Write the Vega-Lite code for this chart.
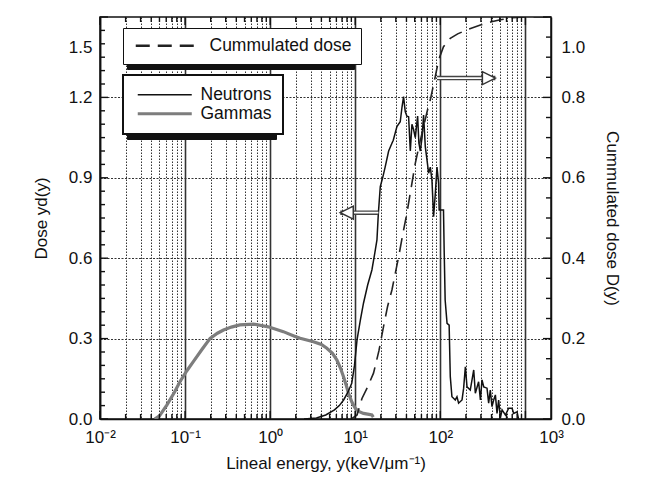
{
  "$schema": "https://vega.github.io/schema/vega-lite/v6.json",
  "width": 451,
  "height": 402,
  "autosize": {"type": "none"},
  "padding": {"left": 100, "top": 17, "right": 96, "bottom": 64},
  "background": "white",
  "config": {
    "font": "Liberation Sans",
    "view": {"stroke": "#111", "strokeWidth": 1.5},
    "axis": {
      "labelFont": "Liberation Sans", "labelFontSize": 17, "labelColor": "#111",
      "titleFont": "Liberation Sans", "titleFontSize": 17, "titleFontWeight": "normal", "titleColor": "#111",
      "domainColor": "#111", "domainWidth": 1.5, "ticks": false
    }
  },
  "datasets": {
    "curves": [
      {"s": "Gammas", "x": 0.044, "y": 0}, {"s": "Gammas", "x": 0.05, "y": 0.012}, {"s": "Gammas", "x": 0.061, "y": 0.052},
      {"s": "Gammas", "x": 0.075, "y": 0.1}, {"s": "Gammas", "x": 0.087, "y": 0.139}, {"s": "Gammas", "x": 0.105, "y": 0.18},
      {"s": "Gammas", "x": 0.125, "y": 0.214}, {"s": "Gammas", "x": 0.16, "y": 0.262}, {"s": "Gammas", "x": 0.197, "y": 0.301},
      {"s": "Gammas", "x": 0.24, "y": 0.32}, {"s": "Gammas", "x": 0.283, "y": 0.332}, {"s": "Gammas", "x": 0.35, "y": 0.343},
      {"s": "Gammas", "x": 0.44, "y": 0.351}, {"s": "Gammas", "x": 0.64, "y": 0.354}, {"s": "Gammas", "x": 0.95, "y": 0.344},
      {"s": "Gammas", "x": 1.43, "y": 0.326}, {"s": "Gammas", "x": 1.9, "y": 0.31}, {"s": "Gammas", "x": 2.25, "y": 0.301},
      {"s": "Gammas", "x": 3.23, "y": 0.288}, {"s": "Gammas", "x": 4.0, "y": 0.278}, {"s": "Gammas", "x": 4.64, "y": 0.264},
      {"s": "Gammas", "x": 5.4, "y": 0.245}, {"s": "Gammas", "x": 6.09, "y": 0.22}, {"s": "Gammas", "x": 6.7, "y": 0.19},
      {"s": "Gammas", "x": 7.28, "y": 0.158}, {"s": "Gammas", "x": 7.8, "y": 0.128}, {"s": "Gammas", "x": 8.34, "y": 0.096},
      {"s": "Gammas", "x": 9.1, "y": 0.064}, {"s": "Gammas", "x": 10, "y": 0.04}, {"s": "Gammas", "x": 11, "y": 0.028},
      {"s": "Gammas", "x": 12.5, "y": 0.021}, {"s": "Gammas", "x": 14, "y": 0.018}, {"s": "Gammas", "x": 15.7, "y": 0.015},
      {"s": "Gammas", "x": 16.3, "y": 0.007},
      {"s": "Neutrons", "x": 2.5, "y": 0}, {"s": "Neutrons", "x": 3.5, "y": 0.004}, {"s": "Neutrons", "x": 4.5, "y": 0.015},
      {"s": "Neutrons", "x": 5.7, "y": 0.034}, {"s": "Neutrons", "x": 6.5, "y": 0.05}, {"s": "Neutrons", "x": 7.3, "y": 0.071},
      {"s": "Neutrons", "x": 8.2, "y": 0.1}, {"s": "Neutrons", "x": 9.1, "y": 0.133}, {"s": "Neutrons", "x": 9.8, "y": 0.2},
      {"s": "Neutrons", "x": 10.5, "y": 0.295}, {"s": "Neutrons", "x": 11.5, "y": 0.37}, {"s": "Neutrons", "x": 12.5, "y": 0.432},
      {"s": "Neutrons", "x": 14, "y": 0.5}, {"s": "Neutrons", "x": 15.7, "y": 0.556}, {"s": "Neutrons", "x": 17, "y": 0.62},
      {"s": "Neutrons", "x": 18, "y": 0.668}, {"s": "Neutrons", "x": 18.7, "y": 0.768}, {"s": "Neutrons", "x": 19.7, "y": 0.867},
      {"s": "Neutrons", "x": 21, "y": 0.9}, {"s": "Neutrons", "x": 22.5, "y": 0.941}, {"s": "Neutrons", "x": 24.7, "y": 1.0},
      {"s": "Neutrons", "x": 27, "y": 1.029}, {"s": "Neutrons", "x": 28, "y": 1.04}, {"s": "Neutrons", "x": 30.9, "y": 1.091},
      {"s": "Neutrons", "x": 33.8, "y": 1.109}, {"s": "Neutrons", "x": 35.5, "y": 1.165}, {"s": "Neutrons", "x": 37, "y": 1.203},
      {"s": "Neutrons", "x": 38.7, "y": 1.147}, {"s": "Neutrons", "x": 40.5, "y": 1.13}, {"s": "Neutrons", "x": 42.4, "y": 1.128},
      {"s": "Neutrons", "x": 44.4, "y": 1.0}, {"s": "Neutrons", "x": 46.4, "y": 1.1}, {"s": "Neutrons", "x": 48.5, "y": 1.08},
      {"s": "Neutrons", "x": 50.8, "y": 1.05}, {"s": "Neutrons", "x": 54.1, "y": 1.13}, {"s": "Neutrons", "x": 56, "y": 1.03},
      {"s": "Neutrons", "x": 58.2, "y": 1.0}, {"s": "Neutrons", "x": 61, "y": 1.05}, {"s": "Neutrons", "x": 63.6, "y": 1.134},
      {"s": "Neutrons", "x": 66.6, "y": 1.016}, {"s": "Neutrons", "x": 69.8, "y": 0.966}, {"s": "Neutrons", "x": 72.9, "y": 0.917},
      {"s": "Neutrons", "x": 76.3, "y": 0.94}, {"s": "Neutrons", "x": 79.8, "y": 0.89}, {"s": "Neutrons", "x": 83.4, "y": 0.755},
      {"s": "Neutrons", "x": 87.3, "y": 0.84}, {"s": "Neutrons", "x": 91.4, "y": 0.94}, {"s": "Neutrons", "x": 95.5, "y": 0.88},
      {"s": "Neutrons", "x": 97, "y": 0.78}, {"s": "Neutrons", "x": 109, "y": 0.78}, {"s": "Neutrons", "x": 111, "y": 0.63},
      {"s": "Neutrons", "x": 114, "y": 0.444}, {"s": "Neutrons", "x": 120, "y": 0.357}, {"s": "Neutrons", "x": 127, "y": 0.35},
      {"s": "Neutrons", "x": 131, "y": 0.158}, {"s": "Neutrons", "x": 137, "y": 0.083}, {"s": "Neutrons", "x": 150, "y": 0.071},
      {"s": "Neutrons", "x": 157, "y": 0.083}, {"s": "Neutrons", "x": 164, "y": 0.059}, {"s": "Neutrons", "x": 180, "y": 0.071},
      {"s": "Neutrons", "x": 188, "y": 0.115}, {"s": "Neutrons", "x": 197, "y": 0.195}, {"s": "Neutrons", "x": 206, "y": 0.12},
      {"s": "Neutrons", "x": 225, "y": 0.108}, {"s": "Neutrons", "x": 247, "y": 0.183}, {"s": "Neutrons", "x": 258, "y": 0.096},
      {"s": "Neutrons", "x": 282, "y": 0.139}, {"s": "Neutrons", "x": 296, "y": 0.071}, {"s": "Neutrons", "x": 309, "y": 0.146},
      {"s": "Neutrons", "x": 324, "y": 0.12}, {"s": "Neutrons", "x": 354, "y": 0.115}, {"s": "Neutrons", "x": 370, "y": 0.059},
      {"s": "Neutrons", "x": 387, "y": 0.108}, {"s": "Neutrons", "x": 405, "y": 0.046}, {"s": "Neutrons", "x": 424, "y": 0.071},
      {"s": "Neutrons", "x": 444, "y": 0.09}, {"s": "Neutrons", "x": 464, "y": 0.021}, {"s": "Neutrons", "x": 485, "y": 0.071},
      {"s": "Neutrons", "x": 508, "y": 0.003}, {"s": "Neutrons", "x": 532, "y": 0.034}, {"s": "Neutrons", "x": 582, "y": 0.015},
      {"s": "Neutrons", "x": 636, "y": 0.04}, {"s": "Neutrons", "x": 697, "y": 0.04}, {"s": "Neutrons", "x": 729, "y": 0.021},
      {"s": "Neutrons", "x": 798, "y": 0.027}, {"s": "Neutrons", "x": 830, "y": 0}
    ],
    "cum": [
      {"k": "Cummulated dose", "x": 9, "d": 0}, {"k": "Cummulated dose", "x": 10.5, "d": 0.01}, {"k": "Cummulated dose", "x": 12, "d": 0.051},
      {"k": "Cummulated dose", "x": 14, "d": 0.08}, {"k": "Cummulated dose", "x": 16.4, "d": 0.114}, {"k": "Cummulated dose", "x": 19, "d": 0.17},
      {"k": "Cummulated dose", "x": 21.5, "d": 0.23}, {"k": "Cummulated dose", "x": 24, "d": 0.28}, {"k": "Cummulated dose", "x": 27, "d": 0.321},
      {"k": "Cummulated dose", "x": 32.4, "d": 0.404}, {"k": "Cummulated dose", "x": 37, "d": 0.47}, {"k": "Cummulated dose", "x": 40.5, "d": 0.512},
      {"k": "Cummulated dose", "x": 45, "d": 0.57}, {"k": "Cummulated dose", "x": 50.8, "d": 0.636}, {"k": "Cummulated dose", "x": 57, "d": 0.685},
      {"k": "Cummulated dose", "x": 63.6, "d": 0.727}, {"k": "Cummulated dose", "x": 70, "d": 0.765}, {"k": "Cummulated dose", "x": 76.3, "d": 0.794},
      {"k": "Cummulated dose", "x": 87.3, "d": 0.852}, {"k": "Cummulated dose", "x": 95.5, "d": 0.893}, {"k": "Cummulated dose", "x": 109, "d": 0.926},
      {"k": "Cummulated dose", "x": 131, "d": 0.947}, {"k": "Cummulated dose", "x": 160, "d": 0.958}, {"k": "Cummulated dose", "x": 206, "d": 0.968},
      {"k": "Cummulated dose", "x": 296, "d": 0.98}, {"k": "Cummulated dose", "x": 400, "d": 0.988}, {"k": "Cummulated dose", "x": 508, "d": 0.993},
      {"k": "Cummulated dose", "x": 700, "d": 0.998}, {"k": "Cummulated dose", "x": 1000, "d": 1.0}, {"k": "Cummulated dose", "x": 2000, "d": 1.0}
    ],
    "arrows": [
      {"dir": "left", "x": 18.7, "xt": 6.67, "y": 0.77},
      {"dir": "right", "x": 91.4, "xt": 444, "y": 1.272}
    ],
    "heads": [
      {"dir": "left", "x": 6.67, "y": 0.77},
      {"dir": "right", "x": 444, "y": 1.272}
    ],
    "shadowSeries": [{"sh": "Neutrons"}, {"sh": "Gammas"}],
    "shadowDose": [{"sd": "Cummulated dose"}],
    "yticks": [
      {"v": 0, "major": true}, {"v": 0.05, "major": false}, {"v": 0.1, "major": false}, {"v": 0.15, "major": false},
      {"v": 0.2, "major": false}, {"v": 0.25, "major": false}, {"v": 0.3, "major": true}, {"v": 0.35, "major": false},
      {"v": 0.4, "major": false}, {"v": 0.45, "major": false}, {"v": 0.5, "major": false}, {"v": 0.55, "major": false},
      {"v": 0.6, "major": true}, {"v": 0.65, "major": false}, {"v": 0.7, "major": false}, {"v": 0.75, "major": false},
      {"v": 0.8, "major": false}, {"v": 0.85, "major": false}, {"v": 0.9, "major": true}, {"v": 0.95, "major": false},
      {"v": 1.0, "major": false}, {"v": 1.05, "major": false}, {"v": 1.1, "major": false}, {"v": 1.15, "major": false},
      {"v": 1.2, "major": true}, {"v": 1.25, "major": false}, {"v": 1.3, "major": false}, {"v": 1.35, "major": false},
      {"v": 1.4, "major": false}, {"v": 1.45, "major": false}, {"v": 1.5, "major": true}
    ],
    "rticks": [
      {"v": 0, "major": true}, {"v": 0.05, "major": false}, {"v": 0.1, "major": false}, {"v": 0.15, "major": false},
      {"v": 0.2, "major": true}, {"v": 0.25, "major": false}, {"v": 0.3, "major": false}, {"v": 0.35, "major": false},
      {"v": 0.4, "major": true}, {"v": 0.45, "major": false}, {"v": 0.5, "major": false}, {"v": 0.55, "major": false},
      {"v": 0.6, "major": true}, {"v": 0.65, "major": false}, {"v": 0.7, "major": false}, {"v": 0.75, "major": false},
      {"v": 0.8, "major": true}, {"v": 0.85, "major": false}, {"v": 0.9, "major": false}, {"v": 0.95, "major": false},
      {"v": 1.0, "major": true}
    ],
    "xticks": [
      {"v": 0.01, "major": true}, {"v": 0.02, "major": false}, {"v": 0.03, "major": false}, {"v": 0.04, "major": false}, {"v": 0.05, "major": false},
      {"v": 0.06, "major": false}, {"v": 0.07, "major": false}, {"v": 0.08, "major": false}, {"v": 0.09, "major": false},
      {"v": 0.1, "major": true}, {"v": 0.2, "major": false}, {"v": 0.3, "major": false}, {"v": 0.4, "major": false}, {"v": 0.5, "major": false},
      {"v": 0.6, "major": false}, {"v": 0.7, "major": false}, {"v": 0.8, "major": false}, {"v": 0.9, "major": false},
      {"v": 1, "major": true}, {"v": 2, "major": false}, {"v": 3, "major": false}, {"v": 4, "major": false}, {"v": 5, "major": false},
      {"v": 6, "major": false}, {"v": 7, "major": false}, {"v": 8, "major": false}, {"v": 9, "major": false},
      {"v": 10, "major": true}, {"v": 20, "major": false}, {"v": 30, "major": false}, {"v": 40, "major": false}, {"v": 50, "major": false},
      {"v": 60, "major": false}, {"v": 70, "major": false}, {"v": 80, "major": false}, {"v": 90, "major": false},
      {"v": 100, "major": true}, {"v": 200, "major": false}, {"v": 300, "major": false}, {"v": 400, "major": false}, {"v": 500, "major": false},
      {"v": 600, "major": false}, {"v": 700, "major": false}, {"v": 800, "major": false}, {"v": 900, "major": false},
      {"v": 1000, "major": true}
    ]
  },
  "layer": [
    {
      "encoding": {
        "x": {
          "field": "x", "type": "quantitative",
          "scale": {"type": "log", "domain": [0.01, 2000], "nice": false},
          "axis": {
            "orient": "bottom",
            "title": "Lineal energy, y(keV/μm⁻¹)",
            "values": [0.01,0.02,0.03,0.04,0.05,0.06,0.07,0.08,0.09,0.1,0.2,0.3,0.4,0.5,0.6,0.7,0.8,0.9,1,2,3,4,5,6,7,8,9,10,20,30,40,50,60,70,80,90,100,200,300,400,500,600,700,800,900,1000,2000],
            "labelExpr": "datum.value == 0.01 ? '10⁻²' : datum.value == 0.1 ? '10⁻¹' : datum.value == 1 ? '10⁰' : datum.value == 10 ? '10¹' : datum.value == 100 ? '10²' : datum.value == 2000 ? '10³' : ''",
            "labelFlush": false,
            "labelOverlap": false,
            "labelPadding": 10,
            "ticks": false,
            "grid": true,
            "gridColor": "#333",
            "gridDash": {"condition": {"test": "indexof([0.01,0.1,1,10,100,1000], datum.value) >= 0", "value": []}, "value": [1.5, 1.5]},
            "gridWidth": {"condition": {"test": "indexof([0.01,0.1,1,10,100,1000], datum.value) >= 0", "value": 1.6}, "value": 1},
            "gridOpacity": {"condition": {"test": "datum.value > 1500", "value": 0}, "value": 1},
            "titlePadding": 10
          }
        },
        "y": {
          "field": "y", "type": "quantitative",
          "scale": {"domain": [0, 1.5], "nice": false, "zero": true},
          "axis": {
            "orient": "left",
            "title": "Dose yd(y)",
            "values": [0,0.05,0.1,0.15,0.2,0.25,0.3,0.35,0.4,0.45,0.5,0.55,0.6,0.65,0.7,0.75,0.8,0.85,0.9,0.95,1,1.05,1.1,1.15,1.2,1.25,1.3,1.35,1.4,1.45,1.5],
            "labelExpr": "indexof([0,0.3,0.6,0.9,1.2,1.5], datum.value) >= 0 ? format(datum.value, '.1f') : ''",
            "labelFlush": false,
            "labelOverlap": false,
            "labelPadding": 8,
            "labelOffset": {"condition": {"test": "datum.value == 1.5", "value": 30}, "value": 0},
            "ticks": false,
            "grid": true,
            "gridColor": "#333",
            "gridDash": [2, 1.5],
            "gridWidth": 1.2,
            "gridOpacity": {"condition": {"test": "indexof([0.3,0.6,0.9,1.2], datum.value) >= 0", "value": 1}, "value": 0},
            "titlePadding": 18
          }
        }
      },
      "layer": [
        {
          "data": {"name": "curves"},
          "mark": {"type": "line", "clip": true},
          "encoding": {
            "stroke": {
              "field": "s", "type": "nominal",
              "scale": {"domain": ["Neutrons", "Gammas"], "range": ["#111111", "#7d7d7d"]},
              "legend": {
                "orient": "none", "legendX": 23, "legendY": 58, "title": null, "zindex": 2,
                "symbolType": "M-1,0H9.8", "symbolSize": 100, "symbolStrokeWidth": 3,
                "labelFont": "Liberation Sans", "labelFontSize": 17.5, "labelColor": "#111", "labelOffset": 49,
                "padding": 11, "rowPadding": 0,
                "strokeColor": "#111", "fillColor": "white",
                "encode": {
                  "symbols": {"update": {"stroke": {"signal": "datum.value === 'Neutrons' ? '#9a9a9a' : '#6e6e6e'"}, "strokeWidth": {"value": 3}}},
                  "legend": {"update": {"strokeWidth": {"value": 2}}}
                }
              }
            },
            "strokeWidth": {
              "field": "s", "type": "nominal",
              "scale": {"domain": ["Neutrons", "Gammas"], "range": [1.5, 3.2]},
              "legend": null
            }
          }
        },
        {
          "data": {"name": "arrows"},
          "mark": {"type": "rule", "color": "#444", "strokeWidth": 4.5},
          "encoding": {"x2": {"field": "xt"}}
        },
        {
          "data": {"name": "arrows"},
          "mark": {"type": "rule", "color": "white", "strokeWidth": 1.8},
          "encoding": {"x2": {"field": "xt"}}
        },
        {
          "data": {"name": "heads"},
          "mark": {"type": "point", "filled": true, "fill": "white", "stroke": "#333", "strokeWidth": 1.5, "size": 676, "opacity": 1},
          "encoding": {
            "shape": {
              "field": "dir", "type": "nominal",
              "scale": {"domain": ["left", "right"], "range": ["M0,0L1,-0.5L1,0.5Z", "M0,0L-1,-0.5L-1,0.5Z"]},
              "legend": null
            }
          }
        }
      ]
    },
    {
      "data": {"name": "cum"},
      "mark": {"type": "line", "clip": true, "color": "#222", "strokeWidth": 1.6},
      "encoding": {
        "x": {
          "field": "x", "type": "quantitative",
          "scale": {"type": "log", "domain": [0.01, 2000], "nice": false},
          "axis": null
        },
        "y": {
          "field": "d", "type": "quantitative",
          "scale": {"domain": [0, 1], "nice": false},
          "axis": {
            "orient": "right",
            "title": "Cummulated dose D(y)",
            "values": [0,0.2,0.4,0.6,0.8,1],
            "labelExpr": "format(datum.value, '.1f')",
            "labelFlush": false,
            "labelOverlap": false,
            "labelPadding": 10,
            "labelOffset": {"condition": {"test": "datum.value == 1", "value": 30}, "value": 0},
            "ticks": false,
            "grid": false,
            "titlePadding": 18
          }
        },
        "strokeDash": {
          "field": "k", "type": "nominal",
          "scale": {"domain": ["Cummulated dose"], "range": [[14, 8]]},
          "legend": {
            "orient": "none", "legendX": 23, "legendY": 11, "title": null, "zindex": 2,
            "symbolType": "M-1,0H11.8", "symbolSize": 100, "symbolStrokeWidth": 2.5,
            "labelFont": "Liberation Sans", "labelFontSize": 17.5, "labelColor": "#111", "labelOffset": 60,
            "padding": 9,
            "strokeColor": "#111", "fillColor": "white",
            "encode": {
              "symbols": {"update": {"stroke": {"value": "#8a8a8a"}, "strokeWidth": {"value": 2.5}}},
              "legend": {"update": {"strokeWidth": {"value": 2}}}
            }
          }
        }
      }
    },
    {
      "data": {"name": "yticks"},
      "transform": [{"filter": "datum.major"}],
      "mark": {"type": "rule", "color": "#111", "strokeWidth": 1.4},
      "encoding": {
        "x": {"datum": 0.01, "axis": null},
        "x2": {"datum": 0.01242},
        "y": {"field": "v", "type": "quantitative", "scale": {"domain": [0, 1.5], "nice": false}, "axis": null}
      }
    },
    {
      "data": {"name": "yticks"},
      "transform": [{"filter": "!datum.major"}],
      "mark": {"type": "rule", "color": "#111", "strokeWidth": 1.4},
      "encoding": {
        "x": {"datum": 0.01, "axis": null},
        "x2": {"datum": 0.01145},
        "y": {"field": "v", "type": "quantitative", "scale": {"domain": [0, 1.5], "nice": false}, "axis": null}
      }
    },
    {
      "data": {"name": "rticks"},
      "transform": [{"filter": "datum.major"}],
      "mark": {"type": "rule", "color": "#111", "strokeWidth": 1.4},
      "encoding": {
        "x": {"datum": 2000, "axis": null},
        "x2": {"datum": 1610},
        "y": {"field": "v", "type": "quantitative", "scale": {"domain": [0, 1], "nice": false}, "axis": null}
      }
    },
    {
      "data": {"name": "rticks"},
      "transform": [{"filter": "!datum.major"}],
      "mark": {"type": "rule", "color": "#111", "strokeWidth": 1.4},
      "encoding": {
        "x": {"datum": 2000, "axis": null},
        "x2": {"datum": 1747},
        "y": {"field": "v", "type": "quantitative", "scale": {"domain": [0, 1], "nice": false}, "axis": null}
      }
    },
    {
      "data": {"name": "xticks"},
      "transform": [{"filter": "datum.major"}],
      "mark": {"type": "rule", "color": "#111", "strokeWidth": 1.4},
      "encoding": {
        "x": {"field": "v", "type": "quantitative", "axis": null},
        "y": {"datum": 0, "scale": {"domain": [0, 1.5], "nice": false}, "axis": null},
        "y2": {"datum": 0.0299}
      }
    },
    {
      "data": {"name": "xticks"},
      "transform": [{"filter": "!datum.major"}],
      "mark": {"type": "rule", "color": "#111", "strokeWidth": 1.4},
      "encoding": {
        "x": {"field": "v", "type": "quantitative", "axis": null},
        "y": {"datum": 0, "scale": {"domain": [0, 1.5], "nice": false}, "axis": null},
        "y2": {"datum": 0.0187}
      }
    },
    {
      "data": {"name": "xticks"},
      "transform": [{"filter": "datum.major"}],
      "mark": {"type": "rule", "color": "#111", "strokeWidth": 1.4},
      "encoding": {
        "x": {"field": "v", "type": "quantitative", "axis": null},
        "y": {"datum": 1.5, "scale": {"domain": [0, 1.5], "nice": false}, "axis": null},
        "y2": {"datum": 1.4701}
      }
    },
    {
      "data": {"name": "xticks"},
      "transform": [{"filter": "!datum.major"}],
      "mark": {"type": "rule", "color": "#111", "strokeWidth": 1.4},
      "encoding": {
        "x": {"field": "v", "type": "quantitative", "axis": null},
        "y": {"datum": 1.5, "scale": {"domain": [0, 1.5], "nice": false}, "axis": null},
        "y2": {"datum": 1.4813}
      }
    },
    {
      "data": {"name": "shadowSeries"},
      "mark": {"type": "point", "opacity": 0},
      "encoding": {
        "shape": {
          "field": "sh", "type": "nominal",
          "scale": {"domain": ["Neutrons", "Gammas"], "range": ["square", "square"]},
          "legend": {
            "orient": "none", "legendX": 27, "legendY": 62, "title": null, "zindex": 1,
            "symbolSize": 306, "symbolOpacity": 0,
            "labelExpr": "' '",
            "labelFont": "Liberation Sans", "labelFontSize": 17.5, "labelOpacity": 0, "labelOffset": 107.6,
            "padding": 11, "rowPadding": 0,
            "strokeColor": "#111", "fillColor": "#111"
          }
        }
      }
    },
    {
      "data": {"name": "shadowDose"},
      "mark": {"type": "point", "opacity": 0},
      "encoding": {
        "shape": {
          "field": "sd", "type": "nominal",
          "scale": {"domain": ["Cummulated dose"], "range": ["square"]},
          "legend": {
            "orient": "none", "legendX": 27, "legendY": 15, "title": null, "zindex": 1,
            "symbolSize": 306, "symbolOpacity": 0,
            "labelExpr": "' '",
            "labelFont": "Liberation Sans", "labelFontSize": 17.5, "labelOpacity": 0, "labelOffset": 189.6,
            "padding": 9,
            "strokeColor": "#111", "fillColor": "#111"
          }
        }
      }
    }
  ],
  "resolve": {"scale": {"y": "independent", "shape": "independent"}, "axis": {"x": "independent"}}
}
